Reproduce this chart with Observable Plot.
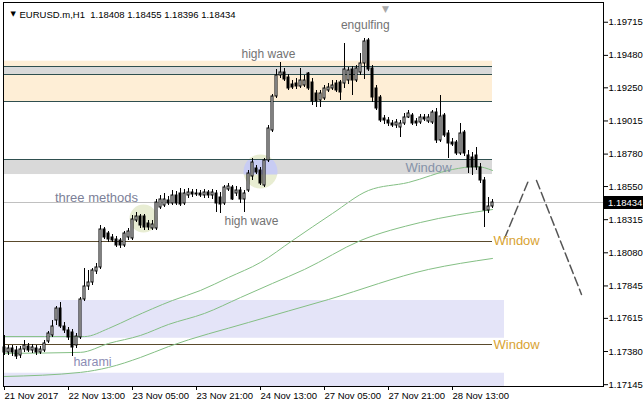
<!DOCTYPE html>
<html><head><meta charset="utf-8">
<script src="https://cdn.jsdelivr.net/npm/d3@7"></script>
<script src="https://cdn.jsdelivr.net/npm/@observablehq/plot@0.6"></script>
<style>
html,body{margin:0;padding:0;background:#fff;}
#chart svg{display:block;}
</style></head><body><div id="chart"></div>
<script>
const symbol = "EURUSD.m,H1";
const tickIdx = [0,16,32,48,64,80,96,112];
const tickLabels = ["21 Nov 2017","22 Nov 13:00","23 Nov 05:00","23 Nov 21:00","24 Nov 13:00","27 Nov 05:00","27 Nov 21:00","28 Nov 13:00"];
const priceTicks = [1.19715,1.19480,1.19250,1.19015,1.18780,1.18550,1.18315,1.18080,1.17845,1.17615,1.17380,1.17145];

const open = [1.17408,1.17374,1.17401,1.17388,1.17353,1.17394,1.17415,1.17388,1.17401,1.17374,
1.17388,1.17451,1.17494,1.17600,1.17685,1.17557,1.17529,1.17515,1.17423,1.17479,
1.17749,1.17841,1.17870,1.17948,1.17976,1.18245,1.18217,1.18188,1.18174,1.18167,
1.18132,1.18188,1.18181,1.18309,1.18337,1.18337,1.18288,1.18252,1.18252,1.18401,
1.18416,1.18451,1.18430,1.18487,1.18501,1.18430,1.18487,1.18508,1.18494,1.18501,
1.18487,1.18508,1.18487,1.18501,1.18472,1.18430,1.18529,1.18543,1.18501,1.18522,
1.18458,1.18522,1.18621,1.18678,1.18664,1.18558,1.18735,1.18947,1.19188,1.19338,
1.19359,1.19323,1.19274,1.19281,1.19259,1.19267,1.19352,1.19288,1.19210,1.19160,
1.19174,1.19231,1.19245,1.19281,1.19288,1.19281,1.19302,1.19380,1.19302,1.19359,
1.19423,1.19585,1.19387,1.19245,1.19181,1.19032,1.19018,1.18997,1.18983,1.18968,
1.18997,1.19039,1.19054,1.19011,1.19004,1.19039,1.19011,1.19004,1.19075,1.18876,
1.19054,1.18926,1.18862,1.18862,1.18785,1.18933,1.18771,1.18756,1.18771,1.18685,
1.18593,1.18380,1.18408];
const high = [1.17494,1.17423,1.17423,1.17415,1.17415,1.17458,1.17437,1.17430,1.17423,1.17415,
1.17458,1.17522,1.17600,1.17699,1.17728,1.17586,1.17550,1.17536,1.17508,1.17763,
1.17969,1.17955,1.17969,1.18005,1.18274,1.18259,1.18231,1.18210,1.18195,1.18181,
1.18231,1.18252,1.18345,1.18366,1.18352,1.18352,1.18309,1.18309,1.18458,1.18487,
1.18501,1.18479,1.18522,1.18515,1.18536,1.18529,1.18536,1.18529,1.18529,1.18522,
1.18529,1.18522,1.18529,1.18522,1.18508,1.18558,1.18572,1.18558,1.18550,1.18543,
1.18522,1.18664,1.18749,1.18700,1.18685,1.18749,1.18983,1.19203,1.19380,1.19430,
1.19387,1.19345,1.19302,1.19316,1.19387,1.19338,1.19359,1.19316,1.19231,1.19231,
1.19267,1.19281,1.19302,1.19302,1.19302,1.19564,1.19394,1.19401,1.19409,1.19493,
1.19599,1.19599,1.19409,1.19267,1.19196,1.19054,1.19039,1.19018,1.19025,1.19018,
1.19068,1.19089,1.19068,1.19032,1.19061,1.19061,1.19061,1.19089,1.19103,1.19196,
1.19068,1.18947,1.18890,1.18876,1.18997,1.18947,1.18806,1.18792,1.18826,1.18714,
1.18614,1.18472,1.18455];
const low = [1.17353,1.17353,1.17345,1.17324,1.17331,1.17374,1.17374,1.17367,1.17353,1.17360,
1.17374,1.17437,1.17479,1.17565,1.17543,1.17508,1.17458,1.17345,1.17401,1.17465,
1.17735,1.17813,1.17849,1.17927,1.17962,1.18174,1.18153,1.18153,1.18117,1.18110,
1.18117,1.18167,1.18167,1.18295,1.18252,1.18238,1.18238,1.18238,1.18238,1.18387,
1.18401,1.18416,1.18416,1.18416,1.18408,1.18416,1.18465,1.18472,1.18479,1.18472,
1.18465,1.18465,1.18458,1.18366,1.18359,1.18416,1.18515,1.18451,1.18479,1.18430,
1.18366,1.18508,1.18593,1.18636,1.18558,1.18543,1.18721,1.18933,1.19174,1.19316,
1.19295,1.19231,1.19238,1.19238,1.19245,1.19252,1.19231,1.19125,1.19110,1.19110,
1.19160,1.19217,1.19231,1.19217,1.19160,1.19245,1.19274,1.19196,1.19288,1.19338,
1.19309,1.19366,1.19146,1.19089,1.19004,1.18990,1.18975,1.18968,1.18961,1.18897,
1.18983,1.19032,1.18983,1.18975,1.18990,1.19011,1.18997,1.18990,1.18855,1.18862,
1.18897,1.18749,1.18833,1.18771,1.18771,1.18763,1.18643,1.18629,1.18664,1.18572,
1.18259,1.18359,1.18396];
const close = [1.17374,1.17401,1.17374,1.17345,1.17394,1.17423,1.17388,1.17408,1.17374,1.17394,
1.17437,1.17508,1.17557,1.17685,1.17557,1.17529,1.17479,1.17408,1.17486,1.17749,
1.17841,1.17870,1.17955,1.17976,1.18245,1.18188,1.18174,1.18167,1.18132,1.18132,
1.18217,1.18231,1.18316,1.18337,1.18274,1.18259,1.18259,1.18281,1.18437,1.18458,
1.18458,1.18430,1.18487,1.18430,1.18423,1.18501,1.18508,1.18494,1.18501,1.18487,
1.18508,1.18487,1.18508,1.18430,1.18423,1.18543,1.18550,1.18458,1.18522,1.18458,
1.18501,1.18643,1.18721,1.18650,1.18572,1.18735,1.18961,1.19188,1.19338,1.19359,
1.19309,1.19245,1.19252,1.19259,1.19302,1.19302,1.19245,1.19153,1.19153,1.19210,
1.19245,1.19252,1.19267,1.19231,1.19217,1.19380,1.19373,1.19302,1.19387,1.19423,
1.19578,1.19380,1.19181,1.19103,1.19018,1.19018,1.18997,1.18983,1.19004,1.18997,
1.19039,1.19068,1.18997,1.18997,1.19039,1.19025,1.19039,1.19075,1.18876,1.19046,
1.18911,1.18855,1.18848,1.18785,1.18926,1.18785,1.18685,1.18685,1.18685,1.18593,
1.18380,1.18408,1.18434];

// moving averages read at selected bars
const ma1Idx = [0,20,26,32,42,49,56,64,72,82,91,101,112,118,122];
const ma1Val = [1.17486,1.17486,1.17543,1.17621,1.17742,1.17813,1.17905,1.18012,1.18167,1.18359,1.18522,1.18579,1.18671,1.18692,1.18664];
const ma2Idx = [0,19,26,34,41,50,59,67,75,89,104,122];
const ma2Val = [1.17367,1.17374,1.17437,1.17494,1.17572,1.17650,1.17763,1.17863,1.17962,1.18167,1.18295,1.18387];
const ma3Idx = [0,19,26,34,41,61,81,106,122];
const ma3Val = [1.17203,1.17232,1.17267,1.17338,1.17415,1.17586,1.17749,1.17962,1.18040];

// zones: [startBar, endBar, top, bottom]
const peachZone = [-5, 122, 1.19439, 1.19151];
const greyZoneTop = [-5, 122, 1.19401, 1.19345];
const windowZone = [-5, 122, 1.18740, 1.18635];
const lavZone1 = [-5, 125, 1.17742, 1.17474];
const lavZone2 = [-5, 125, 1.17226, 1.17000];
const darkLevels = [1.19401, 1.19345, 1.19151, 1.18740];
const windowLevels = [1.18162, 1.17430];
const levelEnd = 122;
const lastPrice = close[close.length - 1];

const forecastA = [[125, 1.18181],[131, 1.18593]];
const forecastB = [[133, 1.18593],[144.25, 1.17785]];

const annotations = [
  {text: "high wave", x: 66, y: 1.19486, color: "#737373", size: 12},
  {text: "engulfing", x: 90.2, y: 1.19692, color: "#737373", size: 12},
  {text: "three methods", x: 23, y: 1.18472, color: "#7c7f98", size: 13},
  {text: "high wave", x: 61.75, y: 1.18302, color: "#737373", size: 12},
  {text: "harami", x: 22, y: 1.17303, color: "#8c8cb4", size: 12.5},
  {text: "Window", x: 106, y: 1.18682, color: "#8592a8", size: 13}
];
const goldLabels = [
  {text: "Window", x: 122.25, y: 1.18167},
  {text: "Window", x: 122.25, y: 1.17430}
];
const blobA = {x: 34.75, y: 1.18323};
const blobB = {x: 64, y: 1.18657};

const idx = d3.range(open.length);
const zoneRect = (z, fill) => Plot.rect([z], {x1: d=>d[0], x2: d=>d[1], y1: d=>d[2], y2: d=>d[3], fill, clip: true});
const ohlc = `${symbol}  ${open.at(-1).toFixed(5)} ${high.at(-1).toFixed(5)} ${low.at(-1).toFixed(5)} ${close.at(-1).toFixed(5)}`;

const chart = Plot.plot({
  width: 643, height: 408,
  marginLeft: 3, marginRight: 40, marginTop: 2, marginBottom: 22,
  style: {fontFamily: "'Liberation Sans', Arial, sans-serif", fontSize: "9.5px", color: "black", background: "white", overflow: "visible"},
  x: {domain: [-0.25, 149.75], axis: null},
  y: {domain: [1.17132, 1.19855], axis: null},
  marks: [
    zoneRect(peachZone, "#feeed6"),
    zoneRect(greyZoneTop, "#d9d9d9"),
    zoneRect(lavZone1, "#e4e4f8"),
    zoneRect(lavZone2, "#e4e4f8"),
    Plot.dot([blobA], {x: "x", y: "y", r: 14, fill: "#e8edd3"}),
    Plot.dot([blobB], {x: "x", y: "y", r: 17, fill: "#e8edd2"}),
    zoneRect(windowZone, "#d9d9d9"),
    Plot.dot([blobB], {x: "x", y: "y", r: 17, fill: "#c8ccf3"}),
    Plot.ruleY(darkLevels, {y: d=>d, x1: -5, x2: levelEnd, stroke: "#2f4f4f", clip: true}),
    Plot.ruleY(windowLevels, {y: d=>d, x1: -5, x2: levelEnd, stroke: "#5a4a2c", clip: true}),
    Plot.line(ma3Idx, {x: d=>d, y: (d,i)=>ma3Val[i], stroke: "#84bf84", strokeWidth: 1, curve: "monotone-x"}),
    Plot.line(ma2Idx, {x: d=>d, y: (d,i)=>ma2Val[i], stroke: "#84bf84", strokeWidth: 1, curve: "monotone-x"}),
    Plot.line(ma1Idx, {x: d=>d, y: (d,i)=>ma1Val[i], stroke: "#84bf84", strokeWidth: 1, curve: "monotone-x"}),
    Plot.ruleY([lastPrice], {stroke: "#c0c0c0"}),
    Plot.ruleX(idx, {x: i=>i, y1: i=>low[i], y2: i=>high[i], stroke: "black"}),
    Plot.rect(idx, {x1: i=>i-0.25, x2: i=>i+0.25, y1: i=>open[i], y2: i=>close[i],
      fill: i => close[i] >= open[i] ? "white" : "black", stroke: "black", strokeWidth: 1}),
    Plot.line(forecastA, {x: d=>d[0], y: d=>d[1], stroke: "#555", strokeDasharray: "9,4"}),
    Plot.line(forecastB, {x: d=>d[0], y: d=>d[1], stroke: "#555", strokeDasharray: "9,4"}),
    Plot.text(annotations, {x: "x", y: "y", text: "text", fill: "color", fontSize: "size"}),
    Plot.text(goldLabels, {x: "x", y: "y", text: "text", fill: "#d9a332", fontSize: 13, textAnchor: "start"}),
    Plot.text([ohlc], {frameAnchor: "top-left", dx: 16, dy: 9, textAnchor: "start", fill: "black", fontSize: 9.5}),
    Plot.text(["\u25BC"], {frameAnchor: "top-left", dx: 7, dy: 9, fill: "black", fontSize: 7, fontFamily: "DejaVu Sans"}),
    Plot.text(["\u25BC"], {x: 95.25, frameAnchor: "top", dy: 3, fill: "#a8a8a8", fontSize: 9, fontFamily: "DejaVu Sans"}),
    Plot.frame({stroke: "black"}),
    Plot.axisY(priceTicks, {anchor: "right", tickSize: 4, tickPadding: 1, tickFormat: d => d.toFixed(5), label: null, fill: "black", fontSize: 9.5}),
    Plot.axisX(tickIdx, {anchor: "bottom", tickSize: 4, tickPadding: 2, tickFormat: d => tickLabels[tickIdx.indexOf(d)], label: null, textAnchor: "start", dx: 0, fill: "black", fontSize: 9.5})
  ]
});

document.getElementById("chart").appendChild(chart);

const svg = d3.select(chart);
// snap candle bodies and wicks to whole pixels for crisp edges
svg.selectAll("g[aria-label='rect'][stroke='black'] rect").each(function() {
  const r = d3.select(this);
  const y = +r.attr("y"), h = +r.attr("height");
  const y0 = Math.round(y), y1 = Math.round(y + h);
  r.attr("y", y0).attr("height", y1 - y0);
});
svg.selectAll("g[aria-label='rule'] line").each(function() {
  const l = d3.select(this);
  if (l.attr("y1") != null) l.attr("y1", Math.round(+l.attr("y1"))).attr("y2", Math.round(+l.attr("y2")));
});

// clip the lavender part of the blob to the window band, and add the price tag
const ys = chart.scale("y"), xs = chart.scale("x");
const yTop = ys.apply(windowZone[2]), yBot = ys.apply(windowZone[3]);
const defs = svg.insert("defs", ":first-child");
defs.append("clipPath").attr("id", "bandclip").append("rect")
  .attr("x", 0).attr("width", 643).attr("y", yTop).attr("height", yBot - yTop);
svg.selectAll("g[fill='#c8ccf3']").attr("clip-path", "url(#bandclip)");

const py = ys.apply(lastPrice);
const xr = xs.range;
const tag = svg.append("g");
tag.append("rect").attr("x", xr[1] + 1).attr("y", Math.round(py) - 6).attr("width", 643 - xr[1] - 1).attr("height", 13).attr("fill", "black");
tag.append("text").attr("x", xr[1] + 5).attr("y", py + 0.5).attr("dy", "0.35em").attr("fill", "white")
  .attr("text-anchor", "start").attr("font-family", "'Liberation Sans', Arial, sans-serif")
  .attr("font-size", "9.5px").text(lastPrice.toFixed(5));
</script>
</body></html>
